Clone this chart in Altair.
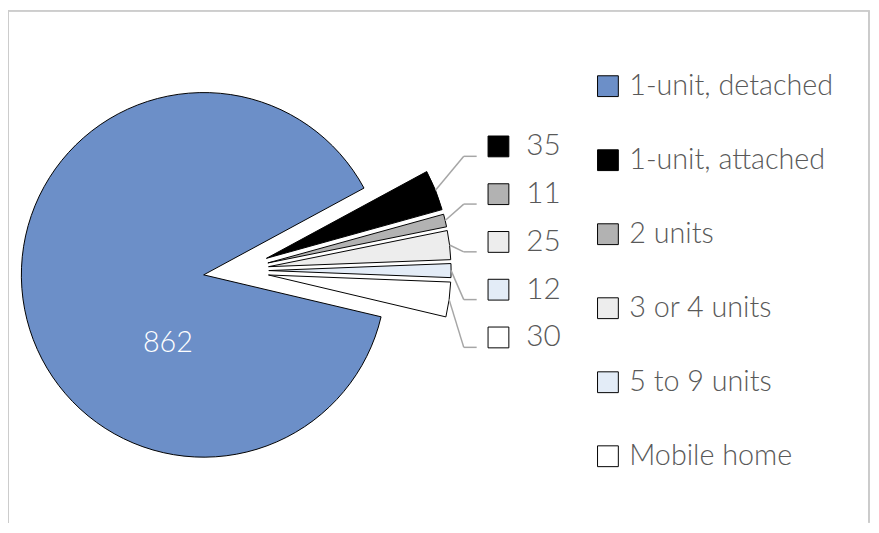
import math
import altair as alt
import pandas as pd

# ---- data ----
categories = ["1-unit, detached", "1-unit, attached", "2 units", "3 or 4 units", "5 to 9 units", "Mobile home"]
values = [862, 35, 11, 25, 12, 30]
colors = ["#6C8FC8", "#000000", "#B2B2B2", "#EDEDED", "#E3ECF7", "#FFFFFF"]

df = pd.DataFrame({"category": categories, "value": values, "order": list(range(len(values)))})

# ---- layout / style constants ----
TOTAL = sum(values)
CX, CY = 230.2, 262.6        # pie centre (pixels, plot coords)
R = 184                      # pie radius
EXPL = 33                    # explosion distance
A0 = math.radians(103.3)     # angle of first slice
FONT = "Lato"
FW = 300
TXT = "#595959"
W, H = 871, 517

base = alt.Chart(df).transform_window(
    cum="sum(value)", rn="row_number()",
    sort=[alt.SortField("order")], frame=[None, 0]
).transform_calculate(
    c0="datum.cum - datum.value",
    mid=f"{A0} + (datum.cum - datum.value/2)/{TOTAL}*2*PI",
    ax=f"{CX} + {EXPL}*sin(datum.mid)",
    ay=f"{CY} - {EXPL}*cos(datum.mid)",
)

arcs = base.mark_arc(radius=R, stroke="black", strokeWidth=1).encode(
    theta=alt.Theta("c0:Q", scale=alt.Scale(domain=[0, TOTAL], range=[A0, A0 + 2 * math.pi], nice=False)),
    theta2="cum:Q",
    x=alt.X("ax:Q", scale=None, axis=None),
    y=alt.Y("ay:Q", scale=None, axis=None),
    color=alt.Color(
        "category:N",
        scale=alt.Scale(domain=categories, range=colors),
        sort=categories,
        legend=alt.Legend(
            orient="none", legendX=591, legendY=62, title=None,
            symbolType="square", symbolSize=441, symbolStrokeColor="black",
            symbolStrokeWidth=1, symbolOpacity=1,
            labelFontSize=29, labelFont=FONT, labelFontWeight=FW, labelColor=TXT,
            rowPadding=44.7, labelOffset=7, padding=0, labelLimit=400,
        ),
    ),
)

# big slice label
big_label = base.transform_filter("datum.rn == 1").transform_calculate(
    lx=f"datum.ax + 78*sin({math.radians(207.6)})",
    ly=f"datum.ay - 78*cos({math.radians(207.6)})",
).mark_text(font=FONT, fontWeight=FW, fontSize=29, color="white", align="center", baseline="middle").encode(
    x=alt.X("lx:Q", scale=None, axis=None),
    y=alt.Y("ly:Q", scale=None, axis=None),
    text="value:Q",
)

small = base.transform_filter("datum.rn > 1").transform_calculate(
    ly="137.3 + (datum.rn - 2)*48.2",
    sx=f"{CX} + {EXPL + R}*sin(datum.mid)",
    sy=f"{CY} - {EXPL + R}*cos(datum.mid)",
    ey="datum.ly + 10",
)

keys = small.mark_square(size=441, stroke="black", strokeWidth=1, opacity=1).encode(
    x=alt.value(495),
    y=alt.Y("ly:Q", scale=None, axis=None),
    color=alt.Color("category:N", scale=alt.Scale(domain=categories, range=colors), legend=None),
)

nums = small.mark_text(font=FONT, fontWeight=FW, fontSize=30, color=TXT, align="left", baseline="middle").encode(
    x=alt.value(523),
    y=alt.Y("ly:Q", scale=None, axis=None),
    text="value:Q",
)

lead1 = small.mark_rule(color="#A6A6A6", strokeWidth=1.5).encode(
    x=alt.X("sx:Q", scale=None, axis=None),
    y=alt.Y("sy:Q", scale=None, axis=None),
    x2=alt.value(460),
    y2="ey:Q",
)
lead2 = small.mark_rule(color="#A6A6A6", strokeWidth=1.5).encode(
    x=alt.value(460),
    x2=alt.value(473),
    y=alt.Y("ey:Q", scale=None, axis=None),
)

# frame (open at bottom)
bcol = "#CCCCCC"
frame_top = alt.Chart(df).mark_rule(color=bcol).encode(x=alt.value(0), x2=alt.value(869), y=alt.value(0.5))
frame_left = alt.Chart(df).mark_rule(color=bcol).encode(x=alt.value(0.5), y=alt.value(0), y2=alt.value(H))
frame_right = alt.Chart(df).mark_rule(color=bcol).encode(x=alt.value(869), y=alt.value(0), y2=alt.value(H))

chart = alt.layer(
    frame_top, frame_left, frame_right,
    arcs, big_label, lead1, lead2, keys, nums,
).properties(
    width=W, height=H, padding=0, autosize="none"
).configure(font=FONT).configure_view(stroke=None)

chart.save("out.html", embed_options={"renderer": "svg", "actions": False})
